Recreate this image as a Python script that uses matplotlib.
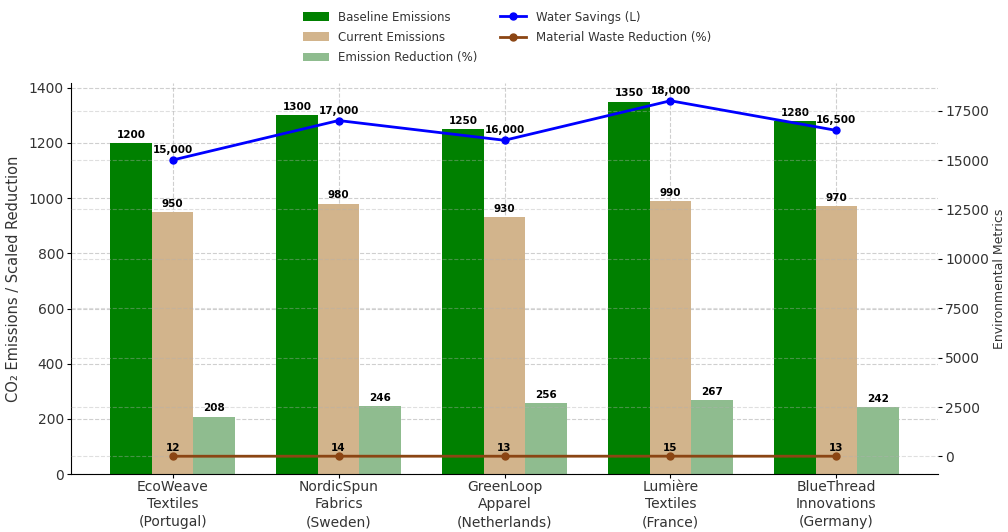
import numpy as np
import matplotlib
matplotlib.use("Agg")
import matplotlib.pyplot as plt

companies = ["EcoWeave\nTextiles\n(Portugal)", "NordicSpun\nFabrics\n(Sweden)",
             "GreenLoop\nApparel\n(Netherlands)", "Lumière\nTextiles\n(France)",
             "BlueThread\nInnovations\n(Germany)"]
baseline = [1200, 1300, 1250, 1350, 1280]
current = [950, 980, 930, 990, 970]
reduction_scaled = [208, 246, 256, 267, 242]
water_savings = [15000, 17000, 16000, 18000, 16500]
waste_reduction = [12, 14, 13, 15, 13]

txt = "#333333"
fig = plt.figure(figsize=(10.08, 5.32), dpi=100)
ax = fig.add_axes([0.0704, 0.109, 0.8602, 0.735])
x = np.arange(len(companies))
w = 0.25

b1 = ax.bar(x - w, baseline, w, color="green", label="Baseline Emissions")
b2 = ax.bar(x, current, w, color="tan", label="Current Emissions")
b3 = ax.bar(x + w, reduction_scaled, w, color="darkseagreen", label="Emission Reduction (%)")

# valeurs au-dessus des barres
for bars in (b1, b2, b3):
    for bar in bars:
        h = bar.get_height()
        ax.text(bar.get_x() + bar.get_width() / 2, h + 12, f"{int(h)}",
                ha="center", va="bottom", fontsize=7.5, fontweight="bold")

ax.set_xticks(x)
ax.set_xticklabels(companies, fontsize=10, color=txt, linespacing=1.35)
ax.set_ylabel("CO₂ Emissions / Scaled Reduction", fontsize=10.5, color=txt, labelpad=6)
ax.tick_params(axis="y", labelsize=10, labelcolor=txt, length=3, pad=2)
ax.tick_params(axis="x", length=3, pad=1)
ax.grid(True, linestyle="--", alpha=0.6)
ax.set_axisbelow(True)
ax.spines["top"].set_visible(False)
ax.spines["right"].set_visible(False)

ax2 = ax.twinx()
l1, = ax2.plot(x, water_savings, color="blue", marker="o", markersize=5, linewidth=2,
               label="Water Savings (L)")
l2, = ax2.plot(x, waste_reduction, color="saddlebrown", marker="o", markersize=5, linewidth=2,
               label="Material Waste Reduction (%)")
for xi, v in zip(x, water_savings):
    ax2.text(xi, v + 250, f"{v:,}", ha="center", va="bottom", fontsize=7.5, fontweight="bold")
for xi, v in zip(x, waste_reduction):
    ax2.text(xi, v + 150, f"{v}", ha="center", va="bottom", fontsize=7.5, fontweight="bold")
ax2.set_ylabel("Environmental Metrics", fontsize=9, color=txt, labelpad=3)
ax2.tick_params(axis="y", labelsize=10, labelcolor=txt, length=3, pad=2)
ax2.grid(True, linestyle="--", alpha=0.4)
for s in ("top", "right", "left", "bottom"):
    ax2.spines[s].set_visible(False)

handles = [b1, b2, b3, l1, l2]
leg = fig.legend(handles, [h.get_label() for h in handles], loc="upper center",
                 bbox_to_anchor=(0.503, 1.0), ncol=2, frameon=False, fontsize=8.5,
                 labelspacing=0.6, columnspacing=1.9, handlelength=2.2)
for t in leg.get_texts():
    t.set_color(txt)

fig.savefig("out.png", dpi=100)
